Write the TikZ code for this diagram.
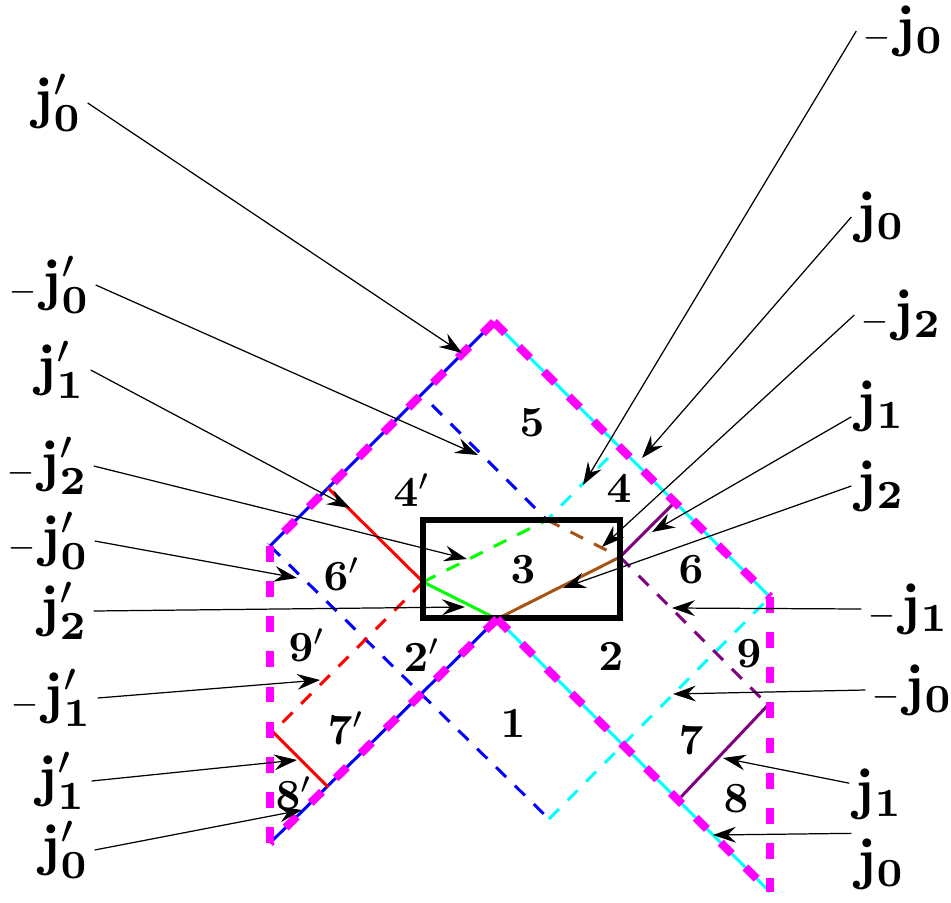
\documentclass[tikz,border=0pt]{standalone}
\usetikzlibrary{arrows.meta}
\definecolor{brn}{RGB}{165,82,20}
\definecolor{prp}{RGB}{128,0,128}
\definecolor{mgt}{RGB}{255,0,255}
\definecolor{cyn}{RGB}{0,255,255}
\definecolor{blu}{RGB}{0,0,255}
\definecolor{grn}{RGB}{0,255,0}
\definecolor{rd}{RGB}{255,0,0}
\newcommand\jj[1]{\scalebox{3.25}{$\mathbf{j}_{\mathbf{#1}}$}}
\newcommand\jp[1]{\scalebox{3.25}{$\mathbf{j}_{\mathbf{#1}}'$}}
\newcommand\mjj[1]{\scalebox{3.25}{${\scriptscriptstyle -}\mkern1mu\mathbf{j}_{\mathbf{#1}}$}}
\newcommand\mjp[1]{\scalebox{3.25}{${\scriptscriptstyle -}\mkern1mu\mathbf{j}_{\mathbf{#1}}'$}}
\newcommand\rg[1]{\scalebox{2.45}{$\mathbf{#1}$}}
\newcommand\rgp[1]{\scalebox{2.45}{$\mathbf{#1}'$}}
\begin{document}
\begin{tikzpicture}[x=0.02cm,y=-0.02cm,
  lbl/.style={inner sep=0.5pt, outer sep=2.5pt, font=\normalsize},
  reg/.style={inner sep=0pt, font=\normalsize},
  arr/.style={line width=0.7pt, -{Stealth[length=13pt,width=9pt,inset=4.5pt]}},
  bnd/.style={line width=1.7pt},
  dsh/.style={line width=1.7pt, dash pattern=on 8pt off 7pt},
  mag/.style={mgt, line width=4.7pt, dash pattern=on 9pt off 11pt},
  box/.style={line width=3.2pt}]
\useasboundingbox (0,0) rectangle (951,903);
% main vertices
\coordinate (A) at (494,322);
\coordinate (L) at (270,546);
\coordinate (BL) at (270,843);
\coordinate (I) at (497,619);
\coordinate (R) at (770,597);
\coordinate (BR) at (770,892);
\coordinate (B) at (549,819);
% rhombus in box
\coordinate (Qw) at (423,582);
\coordinate (Qn) at (547,520);
\coordinate (Qe) at (620,557);
% other points
\coordinate (P1) at (432,405);
\coordinate (P2) at (608,458);
\coordinate (P3) at (328,488);
\coordinate (P4) at (273,732);
\coordinate (P5) at (328,787);
\coordinate (P6) at (674,503);
\coordinate (P7) at (768,705);
\coordinate (P8) at (681,797);
% boundary solid lines
\draw[bnd, blu] (L) -- (A);
\draw[bnd, cyn] (A) -- (R);
\draw[bnd, blu] (BL) -- (I);
\draw[bnd, cyn] (I) -- (BR);
% inner dashed lines
\draw[dsh, blu] (P1) -- (Qn);
\draw[dsh, blu] (L) -- (B);
\draw[dsh, cyn] (B) -- (R);
\draw[dsh, cyn] (P2) -- (Qn);
\draw[dsh, grn] (Qw) -- (Qn);
\draw[dsh, brn] (Qn) -- (Qe);
\draw[dsh, rd] (Qw) -- (P4);
\draw[dsh, prp] (Qe) -- (P7);
% inner solid lines
\draw[bnd, grn] (Qw) -- (I);
\draw[bnd, brn] (I) -- (Qe);
\draw[bnd, rd] (P3) -- (Qw);
\draw[bnd, rd] (P4) -- (P5);
\draw[bnd, prp] (P6) -- (Qe);
\draw[bnd, prp] (P7) -- (P8);
% box
\draw[box] (423,520) rectangle (620,618);
% magenta dashed outline
\draw[mag] (A) -- (L);
\draw[mag] (A) -- (R);
\draw[mag] (I) -- (BL);
\draw[mag] (I) -- (BR);
\draw[mag] (L) -- (BL);
\draw[mag] (R) -- (BR);
% region labels
\node[reg] (n5) at (532,423) {\rg5};
\node[reg] (n4p) at (412,490) {\rgp4};
\node[reg] (n4) at (619,489) {\rg4};
\node[reg] (n3) at (523,570) {\rg3};
\node[reg] (n6p) at (342,574) {\rgp6};
\node[reg] (n6) at (691,570) {\rg6};
\node[reg] (n9p) at (307,645) {\rgp9};
\node[reg] (n2p) at (422,655) {\rgp2};
\node[reg] (n2) at (611,657) {\rg2};
\node[reg] (n1) at (513,724) {\rg1};
\node[reg] (n7p) at (346,728) {\rgp7};
\node[reg] (n7) at (691,741) {\rg7};
\node[reg] (n8p) at (294,793) {\rgp8};
\node[reg] (n8) at (736,799) {\rg8};
\node[reg] (n9) at (749,654) {\rg9};
% arrow tips
\coordinate (t1) at (462,353);
\coordinate (t2) at (478,455);
\coordinate (t3) at (350,508);
\coordinate (t4) at (467,559);
\coordinate (t5) at (297,578);
\coordinate (t6) at (465,607);
\coordinate (t7) at (320,680);
\coordinate (t8) at (297,760);
\coordinate (t9) at (302,810);
\coordinate (r1) at (583,485);
\coordinate (r2) at (642,458);
\coordinate (r3) at (602,547);
\coordinate (r4) at (652,532);
\coordinate (r5) at (563,588);
\coordinate (r6) at (672,608);
\coordinate (r7) at (673,694);
\coordinate (r8) at (723,758);
\coordinate (r9) at (713,835);
% left labels
\node[lbl] (L1) at (58,103) {\jp0};
\node[lbl] (L2) at (49,285) {\mjp0};
\node[lbl] (L3) at (61,370) {\jp1};
\node[lbl] (L4) at (47,466) {\mjp2};
\node[lbl] (L5) at (48,541) {\mjp0};
\node[lbl] (L6) at (64,611) {\jp2};
\node[lbl] (L7) at (51,698) {\mjp1};
\node[lbl] (L8) at (62,781) {\jp1};
\node[lbl] (L9) at (65,850) {\jp0};
% right labels
\node[lbl] (R1) at (903,31) {\mjj0};
\node[lbl] (R2) at (881,217) {\jj0};
\node[lbl] (R3) at (901,315) {\mjj2};
\node[lbl] (R4) at (881,406) {\jj1};
\node[lbl] (R5) at (881,486) {\jj2};
\node[lbl] (R6) at (908,609) {\mjj1};
\node[lbl] (R7) at (912,690) {\mjj0};
\node[lbl] (R8) at (879,794) {\jj1};
\node[lbl] (R9) at (881,864) {\jj0};
% arrows
\draw[arr] (L1.east) -- (t1);
\draw[arr] (L2.east) -- (t2);
\draw[arr] (L3.east) -- (t3);
\draw[arr] (L4.east) -- (t4);
\draw[arr] (L5.east) -- (t5);
\draw[arr] (L6.east) -- (t6);
\draw[arr] (L7.east) -- (t7);
\draw[arr] (L8.east) -- (t8);
\draw[arr] (L9.east) -- (t9);
\draw[arr] (R1.west) -- (r1);
\draw[arr] (R2.west) -- (r2);
\draw[arr] (R3.west) -- (r3);
\draw[arr] (R4.200) -- (r4);
\draw[arr] (R5.west) -- (r5);
\draw[arr] (R6.west) -- (r6);
\draw[arr] (R7.west) -- (r7);
\draw[arr] (R8.160) -- (r8);
\draw[arr] (R9.north west) -- (r9);
\end{tikzpicture}
\end{document}
